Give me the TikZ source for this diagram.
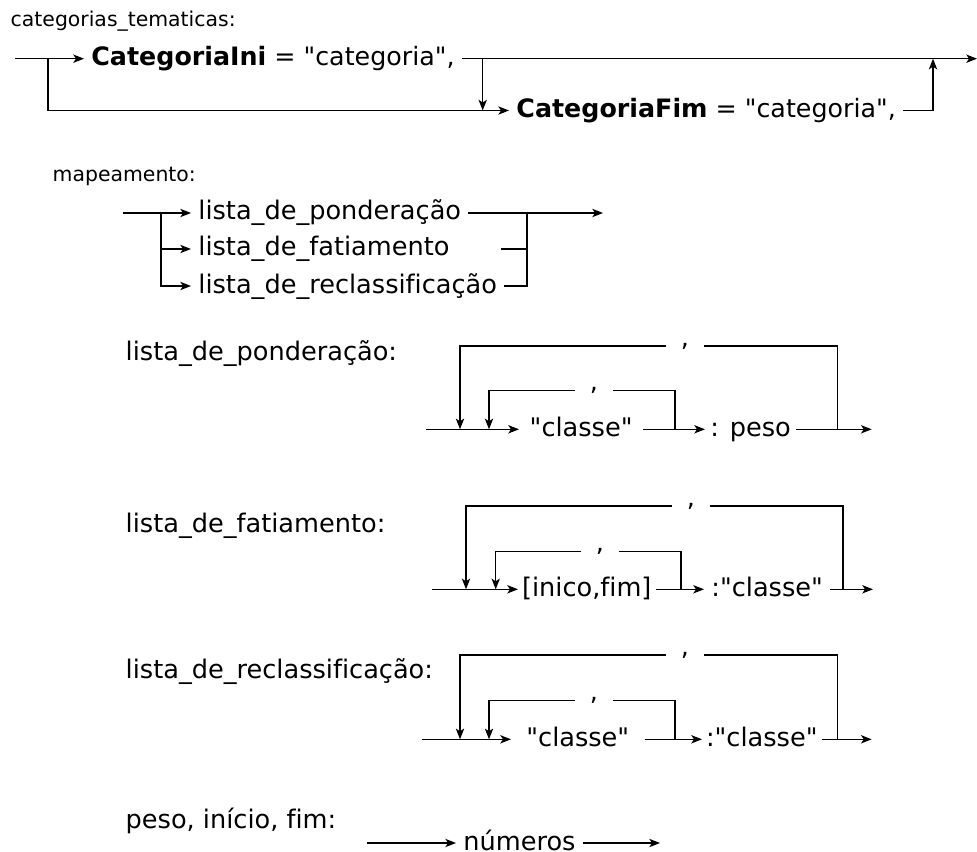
\documentclass[tikz,border=0pt]{standalone}
\usepackage{fontspec}
\setmainfont{DejaVu Sans}[Ligatures={TeXOff,NoCommon}]
\usetikzlibrary{arrows.meta}

\begin{document}
\fontsize{19.2}{23}\selectfont
\begin{tikzpicture}[x=0.75pt,y=-0.75pt,
  line width=1.1pt,
  >={Stealth[length=8pt,width=6.2pt,inset=2pt]},
  termbox/.style={inner xsep=5pt,inner ysep=0pt,anchor=mid west,font=\fontsize{19.2}{23}\selectfont},
  boldbox/.style={termbox,font=\fontsize{19}{23}\selectfont},
  commasep/.style={inner xsep=11pt,inner ysep=0pt,anchor=base,font=\fontsize{19.2}{23}\selectfont},
  titlelbl/.style={inner sep=0pt,anchor=base west,font=\fontsize{19.2}{23}\selectfont},
  smalllbl/.style={inner sep=0pt,anchor=base west,font=\fontsize{15.3}{18}\selectfont}]

\useasboundingbox (0,0) rectangle (977,852);

% --- categorias_tematicas ---
\node[smalllbl] (tcat) at (10,27) {categorias\_tematicas:};
\coordinate (c0) at (15,58.7);
\coordinate (cbr) at (48,58.7);
\coordinate (cdn) at (482.7,58.7);
\coordinate (cdnb) at (482.7,110.5);
\coordinate (cup) at (933,58.7);
\coordinate (cend) at (977,58.7);
\node[boldbox] (ini) at (84,58.7) {\textbf{CategoriaIni} = "categoria",};
\node[boldbox] (fim) at (509,110.5) {\textbf{CategoriaFim} = "categoria",};
\draw[->] (c0) -- (ini.mid west);
\draw[->] (cbr) |- (fim.mid west);
\draw[->] (ini.mid east) -- (cend);
\draw[->] (cdn) -- (cdnb);
\draw[->] (fim.mid east) -| (cup);

% --- mapeamento ---
\node[smalllbl] (tmap) at (52,182) {mapeamento:};
\coordinate (m0) at (123,213);
\coordinate (mbr) at (161,213);
\coordinate (mjn) at (527,213);
\coordinate (mst) at (501,249);
\coordinate (mstr) at (527,249);
\coordinate (mend) at (603,213);
\node[termbox] (pond) at (191,213) {lista\_de\_ponderação};
\node[termbox] (fat) at (191,249) {lista\_de\_fatiamento};
\node[termbox] (recl) at (191,286) {lista\_de\_reclassificação};
\draw[->] (m0) -- (pond.mid west);
\draw[->] (mbr) |- (fat.mid west);
\draw[->] (mbr) |- (recl.mid west);
\draw[->] (pond.mid east) -- (mend);
\draw (recl.mid east) -| (mjn);
\draw (mst) -- (mstr);

% --- lista_de_ponderacao ---
\node[titlelbl] (tpond) at (125,360) {lista\_de\_ponderação:};
\coordinate (p0) at (426,429.3);
\coordinate (pout) at (460,429.3);
\coordinate (pin) at (489,429.3);
\coordinate (pinr) at (675,429.3);
\coordinate (poutr) at (837.7,429.3);
\coordinate (pend) at (871.7,429.3);
\node[termbox,inner xsep=7.5pt] (pcls) at (519,429.3) {"classe"};
\node[termbox,inner xsep=3.5pt] (ppeso) at (705,429.3) {: peso};
\node[commasep] (pc1) at (594,390.7) {,};
\node[commasep] (pc2) at (685,346) {,};
\draw[->] (p0) -- (pcls.mid west);
\draw[->] (pcls.mid east) -- (ppeso.mid west);
\draw[->] (ppeso.mid east) -- (pend);
\draw (pinr) |- (pc1.base east);
\draw[->] (pc1.base west) -| (pin);
\draw (poutr) |- (pc2.base east);
\draw[->] (pc2.base west) -| (pout);

% --- lista_de_fatiamento ---
\node[titlelbl] (tfat) at (125,532) {lista\_de\_fatiamento:};
\coordinate (f0) at (431.7,589.3);
\coordinate (fout) at (466,589.3);
\coordinate (fin) at (495.7,589.3);
\coordinate (finr) at (681,589.3);
\coordinate (foutr) at (843,589.3);
\coordinate (fend) at (873,589.3);
\node[termbox,inner xsep=2.5pt] (frng) at (518,589.3) {[inico,fim]};
\node[termbox] (fcls) at (704,589.3) {:"classe"};
\node[commasep] (fc1) at (600,551.7) {,};
\node[commasep] (fc2) at (691,506) {,};
\draw[->] (f0) -- (frng.mid west);
\draw[->] (frng.mid east) -- (fcls.mid west);
\draw[->] (fcls.mid east) -- (fend);
\draw (finr) |- (fc1.base east);
\draw[->] (fc1.base west) -| (fin);
\draw (foutr) |- (fc2.base east);
\draw[->] (fc2.base west) -| (fout);

% --- lista_de_reclassificacao ---
\node[titlelbl] (trecl) at (125,678) {lista\_de\_reclassificação:};
\coordinate (r0) at (421.7,739.3);
\coordinate (rout) at (460,739.3);
\coordinate (rin) at (489,739.3);
\coordinate (rinr) at (675,739.3);
\coordinate (routr) at (837.7,739.3);
\coordinate (rend) at (871.7,739.3);
\node[termbox,inner xsep=11pt] (rcls) at (511,739.3) {"classe"};
\node[termbox,inner xsep=2.5pt] (rcls2) at (702,739.3) {:"classe"};
\node[commasep] (rc1) at (594,700.7) {,};
\node[commasep] (rc2) at (685,655) {,};
\draw[->] (r0) -- (rcls.mid west);
\draw[->] (rcls.mid east) -- (rcls2.mid west);
\draw[->] (rcls2.mid east) -- (rend);
\draw (rinr) |- (rc1.base east);
\draw[->] (rc1.base west) -| (rin);
\draw (routr) |- (rc2.base east);
\draw[->] (rc2.base west) -| (rout);

% --- numeros ---
\node[titlelbl] (tnum) at (125,828) {peso, início, fim:};
\coordinate (n0) at (367,843);
\coordinate (nend) at (660,843);
\node[termbox] (num) at (456,843) {números};
\draw[->] (n0) -- (num.mid west);
\draw[->] (num.mid east) -- (nend);

\end{tikzpicture}
\end{document}
